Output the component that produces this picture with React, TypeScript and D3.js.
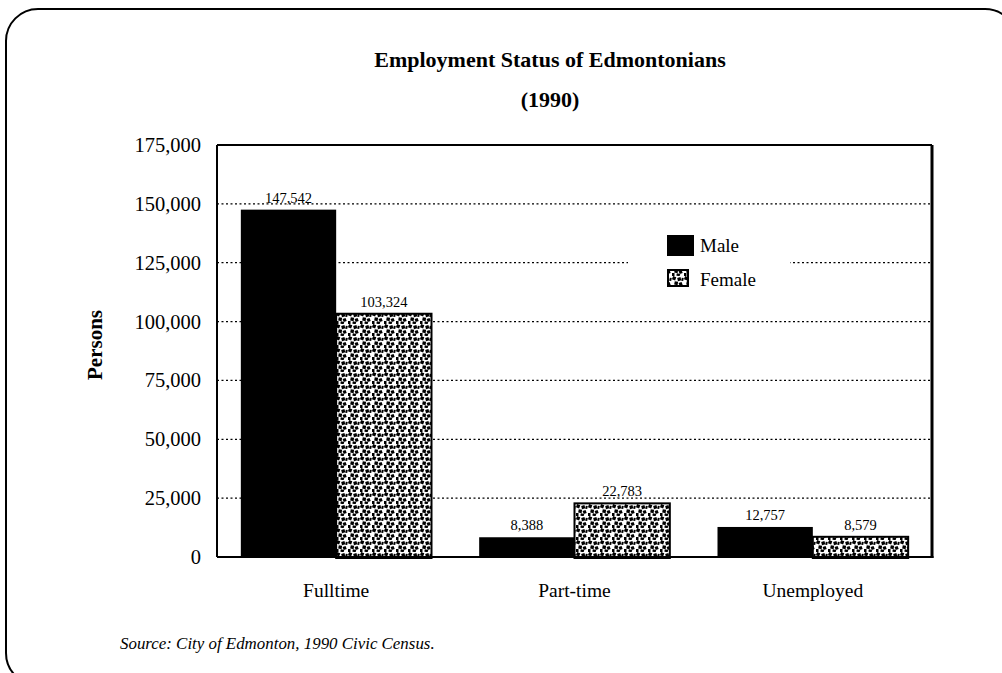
import React from "react";
import * as d3 from "d3";

const categories = ["Fulltime", "Part-time", "Unemployed"];
const seriesNames = ["Male", "Female"];
const maleValues = [147542, 8388, 12757];
const femaleValues = [103324, 22783, 8579];
const yTicks = [0, 25000, 50000, 75000, 100000, 125000, 150000, 175000];
const title1 = "Employment Status of Edmontonians";
const title2 = "(1990)";
const yLabel = "Persons";
const source = "Source: City of Edmonton, 1990 Civic Census.";

const W = 1002;
const H = 673;
const plot = { left: 217, top: 145, right: 932, bottom: 557 };
const FONT = "'Liberation Serif', 'Times New Roman', serif";

// pattern squares (style only): x, y, w, h, rotation
const patternSquares: number[][] = [
  [0.5, 0.5, 3.4, 3.4, 20],
  [5.5, 1.5, 3.4, 3.4, -15],
  [2.5, 5.5, 3.4, 3.4, 10],
  [7, 6.5, 3.2, 3.2, -20],
  [4.5, 9.5, 3.4, 2.5, 15],
  [0, 9, 2.5, 3, 0],
  [9.5, 2, 2, 3, 10],
];

export default function App() {
  const x0 = d3
    .scaleBand<string>()
    .domain(categories)
    .range([plot.left, plot.right])
    .paddingInner(0.2)
    .paddingOuter(0.1);
  const x1 = d3.scaleBand<string>().domain(seriesNames).range([0, x0.bandwidth()]);
  const y = d3.scaleLinear().domain([0, 175000]).range([plot.bottom, plot.top]);
  const fmt = d3.format(",");
  const values = [maleValues, femaleValues];

  return (
    <div style={{ position: "absolute", left: 0, top: 0, width: W, height: H, background: "#fff" }}>
      <svg width={W} height={H} style={{ display: "block" }} fontFamily={FONT}>
        <defs>
          <pattern id="dots" patternUnits="userSpaceOnUse" width="12" height="12">
            <rect width="12" height="12" fill="#fff" />
            {patternSquares.map((s, i) => (
              <rect
                key={i}
                x={s[0]}
                y={s[1]}
                width={s[2]}
                height={s[3]}
                fill="#000"
                transform={`rotate(${s[4]} ${s[0] + 1.5} ${s[1] + 1.5})`}
              />
            ))}
          </pattern>
        </defs>
        <rect x={6} y={9} width={1011} height={676} rx={32} ry={32} fill="none" stroke="#000" strokeWidth={2} />

        <text x={550} y={67} textAnchor="middle" fontWeight="bold" fontSize={22}>
          {title1}
        </text>
        <text x={550} y={107} textAnchor="middle" fontWeight="bold" fontSize={22}>
          {title2}
        </text>

        {/* gridlines */}
        {yTicks
          .filter((t) => t > 0 && t < 175000)
          .map((t) => (
            <line
              key={t}
              x1={plot.left}
              x2={plot.right}
              y1={y(t)}
              y2={y(t)}
              stroke="#000"
              strokeWidth={1.3}
              strokeDasharray="2,2.5"
            />
          ))}

        {/* bars */}
        {categories.map((c, ci) =>
          seriesNames.map((s, si) => {
            const v = values[si][ci];
            const bx = (x0(c) as number) + (x1(s) as number);
            const bw = x1.bandwidth();
            const by = y(v);
            return (
              <g key={c + s}>
                <rect
                  x={bx}
                  y={by}
                  width={bw}
                  height={plot.bottom + 1 - by}
                  fill={si === 0 ? "#000" : "url(#dots)"}
                  stroke="#000"
                  strokeWidth={si === 0 ? 0 : 2}
                />
                <text x={bx + bw / 2} y={by - 7} textAnchor="middle" fontSize={14.5}>
                  {fmt(v)}
                </text>
              </g>
            );
          })
        )}

        {/* legend */}
        <rect x={628} y={228} width={162} height={66} fill="#fff" />
        <rect x={667} y={235} width={27} height={21} fill="#000" />
        <text x={700} y={252} fontSize={19}>
          {seriesNames[0]}
        </text>
        <rect x={668} y={270} width={20} height={16} fill="url(#dots)" stroke="#000" strokeWidth={2} />
        <text x={700} y={286} fontSize={19}>
          {seriesNames[1]}
        </text>

        {/* frame */}
        <line x1={plot.left} x2={plot.right} y1={plot.top} y2={plot.top} stroke="#000" strokeWidth={2} />
        <line x1={plot.left} x2={plot.left} y1={plot.top} y2={plot.bottom} stroke="#000" strokeWidth={2} />
        <line x1={plot.right} x2={plot.right} y1={plot.top} y2={plot.bottom + 1} stroke="#000" strokeWidth={3} />
        <line x1={plot.left} x2={plot.right + 1.5} y1={plot.bottom} y2={plot.bottom} stroke="#000" strokeWidth={2} />

        {/* y ticks */}
        {yTicks.map((t) => (
          <text key={t} x={201} y={y(t) + 7} textAnchor="end" fontSize={20.5}>
            {fmt(t)}
          </text>
        ))}

        {/* x labels */}
        {categories.map((c) => (
          <text key={c} x={(x0(c) as number) + x0.bandwidth() / 2} y={597} textAnchor="middle" fontSize={19.5}>
            {c}
          </text>
        ))}

        <text
          transform={`translate(102, 345) rotate(-90)`}
          textAnchor="middle"
          fontWeight="bold"
          fontSize={21}
        >
          {yLabel}
        </text>

        <text x={120} y={649} fontStyle="italic" fontSize={16.9}>
          {source}
        </text>
      </svg>
    </div>
  );
}
